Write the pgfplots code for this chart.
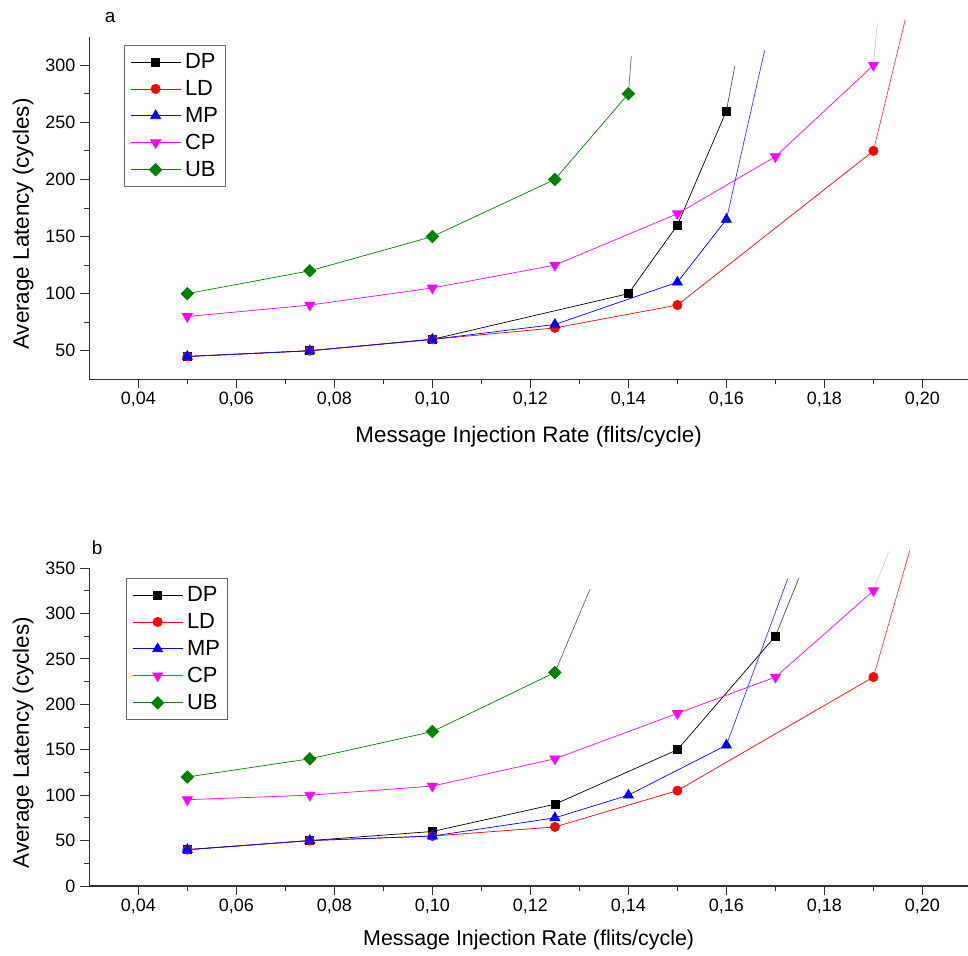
\documentclass[border=0pt]{standalone}
\usepackage{fontspec}
\setmainfont{Liberation Sans}
\usepackage{pgfplots}
\pgfplotsset{compat=1.18}
\definecolor{ubgreen}{RGB}{0,128,0}
\definecolor{cpmag}{RGB}{255,0,255}
\pgfplotsset{
 myaxis/.style={
  scale only axis, width=878.7bp,
  xmin=0.03, xmax=0.2093,
  axis x line*=bottom, axis y line*=left,
  tick align=outside,
  major tick length=9bp, minor tick length=5bp,
  xtick={0.04,0.06,0.08,0.10,0.12,0.14,0.16,0.18,0.20},
  minor x tick num=1, minor y tick num=1,
  /pgf/number format/assume math mode=true,
  xticklabel style={font=\fontsize{18}{20}\selectfont, /pgf/number format/.cd,fixed,fixed zerofill,precision=2,use comma},
  yticklabel style={font=\fontsize{18}{20}\selectfont, xshift=-1.5bp},
  axis line style={line width=1.1pt, black!80},
  every tick/.style={line width=1pt, black!80},
  xlabel={Message Injection Rate (flits/cycle)},
  ylabel={Average Latency (cycles)},
  clip=false,
  legend cell align=left,
  legend image code/.code={\draw[mark repeat=2,mark phase=2,##1] plot coordinates {(0bp,0bp) (25bp,0bp) (50bp,0bp)};},
 },
 dp/.style={color=black, line width=0.7pt, mark=square*, mark size=4bp},
 ld/.style={color=red, line width=0.7pt, mark=*, mark size=4.6bp},
 mp/.style={color=blue, line width=0.7pt, mark=triangle*, mark size=5.8bp},
 cp/.style={color=cpmag, line width=0.7pt, mark=triangle*, mark options={rotate=180}, mark size=5.8bp},
 ub/.style={color=ubgreen, line width=0.7pt, mark=square*, mark options={rotate=45}, mark size=4.4bp},
 tail/.style={forget plot, line width=0.7pt, no markers},
 mylegend/.style={anchor=north west, draw=black!60, line width=0.6pt,
    font=\fontsize{22}{24}\selectfont, row sep=7.3bp, column sep=2.5bp,
    inner xsep=6bp, inner ysep=7bp,
    nodes={inner sep=1.5bp}},
}
\begin{document}
\begin{tikzpicture}
\useasboundingbox (0bp,0bp) rectangle (968bp,-956bp);
% ---------- panel a ----------
\begin{axis}[myaxis,
  at={(89.3bp,-379.3bp)}, anchor=south west,
  height=342.6bp, ymin=25, ymax=325,
  ytick={50,100,150,200,250,300},
  every axis x label/.style={at={(axis description cs:0.5,-0.168)},anchor=center,font=\fontsize{22.5}{24}\selectfont},
  every axis y label/.style={at={(axis description cs:-0.0755,0.453)},rotate=90,anchor=center,font=\fontsize{22.5}{24}\selectfont},
  legend style={mylegend, at={(0.0395,0.976)}},
]
\addplot[dp] coordinates {(0.05,45) (0.075,50) (0.10,60) (0.14,100) (0.15,160) (0.16,260)};
\addlegendentry{DP}
\addplot[ld] coordinates {(0.05,45) (0.075,50) (0.10,60) (0.125,70) (0.15,90) (0.19,225)};
\addlegendentry{LD}
\addplot[mp] coordinates {(0.05,45) (0.075,50) (0.10,60) (0.125,73) (0.15,110) (0.16,165)};
\addlegendentry{MP}
\addplot[cp] coordinates {(0.05,80) (0.075,90) (0.10,105) (0.125,125) (0.15,170) (0.17,220) (0.19,300)};
\addlegendentry{CP}
\addplot[ub] coordinates {(0.05,100) (0.075,120) (0.10,150) (0.125,200) (0.14,275)};
\addlegendentry{UB}
\addplot[tail, black!70] coordinates {(0.16,260) (0.1617,299)};
\addplot[tail, red!80] coordinates {(0.19,225) (0.1965,340)};
\addplot[tail, blue!80] coordinates {(0.16,165) (0.1678,313)};
\addplot[tail, black!20] coordinates {(0.19,300) (0.1908,337)};
\addplot[tail, black!60] coordinates {(0.14,275) (0.1406,308)};
\node[font=\fontsize{19}{21}\selectfont] at (rel axis cs:0.0236,1.0575) {a};
\end{axis}
% ---------- panel b ----------
\begin{axis}[myaxis,
  at={(89.3bp,-886bp)}, anchor=south west,
  height=318bp, ymin=0, ymax=350,
  ytick={0,50,100,150,200,250,300,350},
  every axis x label/.style={at={(axis description cs:0.5,-0.171)},anchor=center,font=\fontsize{21.5}{23}\selectfont},
  every axis y label/.style={at={(axis description cs:-0.0755,0.451)},rotate=90,anchor=center,font=\fontsize{22.5}{24}\selectfont},
  legend style={mylegend, at={(0.0418,0.9686)}},
]
\addplot[dp] coordinates {(0.05,40) (0.075,50) (0.10,60) (0.125,90) (0.15,150) (0.17,275)};
\addlegendentry{DP}
\addplot[ld] coordinates {(0.05,40) (0.075,50) (0.10,55) (0.125,65) (0.15,105) (0.19,230)};
\addlegendentry{LD}
\addplot[mp] coordinates {(0.05,40) (0.075,50) (0.10,55) (0.125,75) (0.14,100) (0.16,155)};
\addlegendentry{MP}
\addplot[cp] coordinates {(0.05,95) (0.075,100) (0.10,110) (0.125,140) (0.15,190) (0.17,230) (0.19,325)};
\addlegendentry{CP}
\addplot[ub] coordinates {(0.05,120) (0.075,140) (0.10,170) (0.125,235)};
\addlegendentry{UB}
\addplot[tail, black!70] coordinates {(0.17,275) (0.1748,339)};
\addplot[tail, red!80] coordinates {(0.19,230) (0.1974,369)};
\addplot[tail, blue!80] coordinates {(0.16,155) (0.1725,338)};
\addplot[tail, black!20] coordinates {(0.19,325) (0.1931,368)};
\addplot[tail, black!60] coordinates {(0.125,235) (0.1322,327)};
\node[font=\fontsize{19}{21}\selectfont] at (rel axis cs:0.0088,1.063) {b};
\end{axis}
\end{tikzpicture}
\end{document}
